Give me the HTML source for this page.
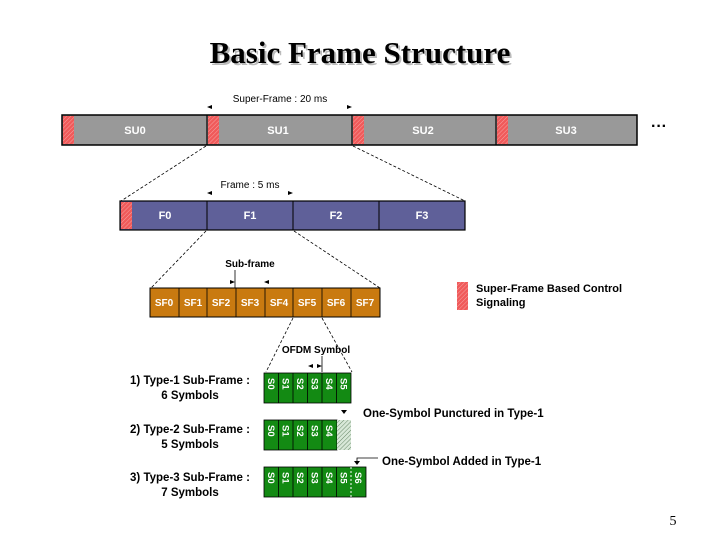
<!DOCTYPE html>
<html><head><meta charset="utf-8"><style>
html,body{margin:0;padding:0;background:#fff;}
svg{display:block;}
text{font-family:"Liberation Sans",sans-serif;}
</style></head><body>
<svg width="720" height="540" viewBox="0 0 720 540" xmlns="http://www.w3.org/2000/svg">
<defs>
<pattern id="h" width="3" height="3" patternUnits="userSpaceOnUse" patternTransform="rotate(45)">
<rect width="3" height="3" fill="#f05a5a"/><line x1="0" y1="0" x2="0" y2="3" stroke="#f6a0a0" stroke-width="1"/></pattern>
<pattern id="g" width="3" height="3" patternUnits="userSpaceOnUse" patternTransform="rotate(45)">
<rect width="3" height="3" fill="#d8e8d8"/><line x1="0" y1="0" x2="0" y2="3" stroke="#6a8a6a" stroke-width="1"/></pattern>
</defs>
<text x="362" y="65" text-anchor="middle" font-weight="bold" font-size="31" fill="#bbb" style="font-family:'Liberation Serif',serif">Basic Frame Structure</text>
<text x="360" y="63" text-anchor="middle" font-weight="bold" font-size="31" fill="#000" style="font-family:'Liberation Serif',serif">Basic Frame Structure</text>

<!-- Super frame -->
<text x="280" y="102" text-anchor="middle" font-size="10">Super-Frame : 20 ms</text>
<path d="M207 107 l5 -2 v4z M352 107 l-5 -2 v4z" fill="#000"/>
<rect x="62" y="115" width="575" height="30" fill="#999" stroke="#000" stroke-width="1.5"/>
<g stroke="#000" stroke-width="1.2">
<line x1="207" y1="115" x2="207" y2="145"/><line x1="352" y1="115" x2="352" y2="145"/><line x1="496" y1="115" x2="496" y2="145"/></g>
<rect x="63" y="116" width="11" height="28" fill="url(#h)"/>
<rect x="208" y="116" width="11" height="28" fill="url(#h)"/>
<rect x="353" y="116" width="11" height="28" fill="url(#h)"/>
<rect x="497" y="116" width="11" height="28" fill="url(#h)"/>
<g fill="#fff" font-weight="bold" font-size="11" text-anchor="middle">
<text x="135" y="134">SU0</text><text x="278" y="134">SU1</text><text x="423" y="134">SU2</text><text x="566" y="134">SU3</text></g>
<text x="659" y="131" text-anchor="middle" font-size="16" font-weight="bold">···</text>

<g stroke="#000" stroke-width="0.8" stroke-dasharray="3,2" fill="none">
<line x1="206" y1="146" x2="121" y2="201"/><line x1="353" y1="146" x2="465" y2="201"/>
<line x1="206" y1="231" x2="151" y2="288"/><line x1="294" y1="231" x2="380" y2="288"/>
<line x1="293" y1="318" x2="266" y2="372"/><line x1="322" y1="318" x2="352" y2="372"/>
</g>

<!-- Frame -->
<text x="250" y="188" text-anchor="middle" font-size="10">Frame : 5 ms</text>
<path d="M207 193 l5 -2 v4z M293 193 l-5 -2 v4z" fill="#000"/>
<rect x="120" y="201" width="345" height="29" fill="#5f6099" stroke="#000" stroke-width="1.2"/>
<g stroke="#000"><line x1="207" y1="201" x2="207" y2="230"/><line x1="293" y1="201" x2="293" y2="230"/><line x1="379" y1="201" x2="379" y2="230"/></g>
<rect x="121" y="202" width="11" height="27" fill="url(#h)"/>
<g fill="#fff" font-weight="bold" font-size="11" text-anchor="middle">
<text x="165" y="219">F0</text><text x="250" y="219">F1</text><text x="336" y="219">F2</text><text x="422" y="219">F3</text></g>

<!-- Subframes -->
<text x="250" y="267" text-anchor="middle" font-size="10" font-weight="bold">Sub-frame</text>
<line x1="235" y1="270" x2="235" y2="288" stroke="#000" stroke-width="0.8"/>
<path d="M235 282 l-5 -2 v4z M264 282 l5 -2 v4z" fill="#000"/>
<rect x="150" y="288" width="230" height="29" fill="#c97a10" stroke="#000" stroke-width="1"/>
<g stroke="#000" stroke-width="0.8">
<line x1="179" y1="288" x2="179" y2="317"/><line x1="207" y1="288" x2="207" y2="317"/><line x1="236" y1="288" x2="236" y2="317"/><line x1="265" y1="288" x2="265" y2="317"/><line x1="293" y1="288" x2="293" y2="317"/><line x1="322" y1="288" x2="322" y2="317"/><line x1="351" y1="288" x2="351" y2="317"/></g>
<g fill="#fff" font-weight="bold" font-size="10" text-anchor="middle">
<text x="164" y="306">SF0</text><text x="193" y="306">SF1</text><text x="221" y="306">SF2</text><text x="250" y="306">SF3</text><text x="279" y="306">SF4</text><text x="307" y="306">SF5</text><text x="336" y="306">SF6</text><text x="365" y="306">SF7</text></g>

<!-- legend -->
<rect x="457" y="282" width="11" height="28" fill="url(#h)"/>
<text x="476" y="292" font-weight="bold" font-size="11">Super-Frame Based Control</text>
<text x="476" y="306" font-weight="bold" font-size="11">Signaling</text>

<text x="316" y="353" text-anchor="middle" font-size="10" font-weight="bold">OFDM Symbol</text>
<line x1="322" y1="356" x2="322" y2="372" stroke="#000" stroke-width="0.8"/>
<path d="M308 366 l5 -2 v4z M322 366 l-5 -2 v4z" fill="#000"/>

<!-- left labels -->
<g font-weight="bold" font-size="11.5" text-anchor="middle">
<text x="190" y="384">1) Type-1 Sub-Frame :</text><text x="190" y="399">6 Symbols</text>
<text x="190" y="433">2) Type-2 Sub-Frame :</text><text x="190" y="448">5 Symbols</text>
<text x="190" y="481">3) Type-3 Sub-Frame :</text><text x="190" y="496">7 Symbols</text>
</g>

<!-- rows -->
<g stroke="#000" stroke-width="0.8">
<rect x="264" y="373" width="87" height="30" fill="#138a13"/>
<rect x="264" y="420" width="73" height="30" fill="#138a13"/>
<rect x="337" y="420" width="14" height="30" fill="url(#g)" stroke="none"/>
<rect x="264" y="467" width="102" height="30" fill="#138a13"/>
<line x1="278.5" y1="373" x2="278.5" y2="403"/><line x1="293" y1="373" x2="293" y2="403"/><line x1="307.5" y1="373" x2="307.5" y2="403"/><line x1="322" y1="373" x2="322" y2="403"/><line x1="336.5" y1="373" x2="336.5" y2="403"/>
<line x1="278.5" y1="420" x2="278.5" y2="450"/><line x1="293" y1="420" x2="293" y2="450"/><line x1="307.5" y1="420" x2="307.5" y2="450"/><line x1="322" y1="420" x2="322" y2="450"/>
<line x1="278.5" y1="467" x2="278.5" y2="497"/><line x1="293" y1="467" x2="293" y2="497"/><line x1="307.5" y1="467" x2="307.5" y2="497"/><line x1="322" y1="467" x2="322" y2="497"/><line x1="336.5" y1="467" x2="336.5" y2="497"/>
</g>
<line x1="351" y1="467" x2="351" y2="497" stroke="#fff" stroke-dasharray="2,2"/>
<g fill="#fff" font-weight="bold" font-size="9.5">
<text transform="translate(268,378) rotate(90)">S0</text><text transform="translate(282.5,378) rotate(90)">S1</text><text transform="translate(297,378) rotate(90)">S2</text><text transform="translate(311.5,378) rotate(90)">S3</text><text transform="translate(326,378) rotate(90)">S4</text><text transform="translate(340.5,378) rotate(90)">S5</text>
<text transform="translate(268,425) rotate(90)">S0</text><text transform="translate(282.5,425) rotate(90)">S1</text><text transform="translate(297,425) rotate(90)">S2</text><text transform="translate(311.5,425) rotate(90)">S3</text><text transform="translate(326,425) rotate(90)">S4</text>
<text transform="translate(268,472) rotate(90)">S0</text><text transform="translate(282.5,472) rotate(90)">S1</text><text transform="translate(297,472) rotate(90)">S2</text><text transform="translate(311.5,472) rotate(90)">S3</text><text transform="translate(326,472) rotate(90)">S4</text><text transform="translate(340.5,472) rotate(90)">S5</text><text transform="translate(355,472) rotate(90)">S6</text>
</g>
<path d="M344 414 l-3 -4 h6z" fill="#000"/>
<text x="363" y="417" font-weight="bold" font-size="11.5">One-Symbol Punctured in Type-1</text>
<path d="M357 465 l-3 -4 h6z" fill="#000"/>
<polyline points="357,461 357,458 378,458" fill="none" stroke="#000" stroke-width="0.8"/>
<text x="382" y="465" font-weight="bold" font-size="11.5">One-Symbol Added in Type-1</text>

<text x="673" y="525" text-anchor="middle" font-size="14" style="font-family:'Liberation Serif',serif">5</text>
</svg>
</body></html>
